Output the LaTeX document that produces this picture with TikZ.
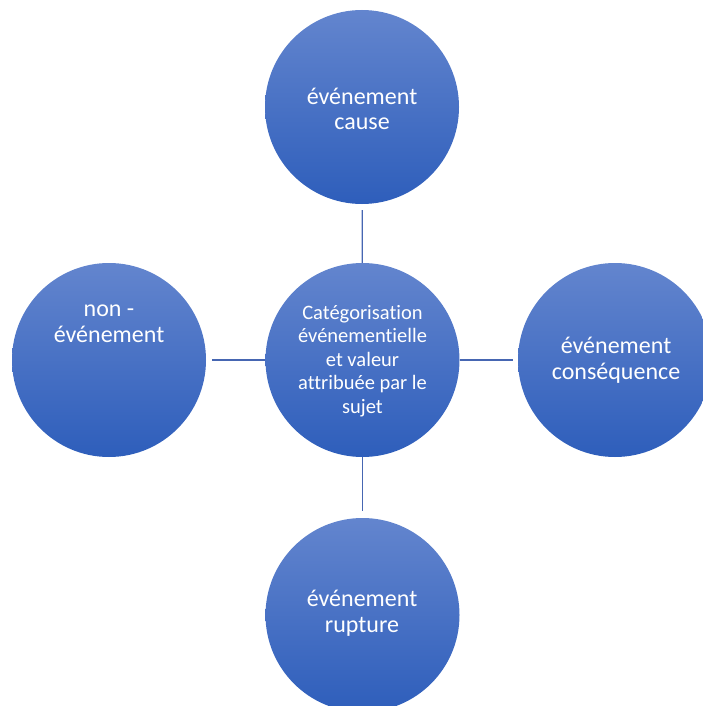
\documentclass[tikz,border=0pt]{standalone}
\usepackage{fontspec}
\setmainfont[Ligatures={NoCommon}]{Carlito}
\definecolor{circtop}{RGB}{99,133,206}
\definecolor{circbot}{RGB}{46,94,187}
\definecolor{connblue}{RGB}{70,102,178}
\begin{document}
\begin{tikzpicture}[x=1pt,y=-1pt,
  bubble/.style={circle,minimum size=194pt,inner sep=0pt,shading=axis,top color=circtop,bottom color=circbot,draw=none},
  outertext/.style={text=white,align=center,font=\fontsize{24}{25.5}\selectfont},
  innertext/.style={text=white,align=center,font=\fontsize{20.5}{23.5}\selectfont},
  conn/.style={draw=connblue,line width=1.2pt}]
\useasboundingbox (0,0) rectangle (703,706);
\clip (0,0) rectangle (703,706);
\node[bubble] (mid) at (362.5,360) {};
\node[bubble] (top) at (362,107) {};
\node[bubble] (left) at (109,360) {};
\node[bubble] (right) at (615,360) {};
\node[bubble] (bot) at (362.5,615) {};
\draw[conn,shorten <=6pt] (top) -- (mid);
\draw[conn,shorten <=6pt] (left) -- (mid);
\draw[conn,shorten <=5pt] (right) -- (mid);
\draw[conn,shorten <=7pt] (bot) -- (mid);
\node[innertext] (tmid) at (362.5,361) {Catégorisation\\événementielle\\et valeur\\attribuée par le\\sujet};
\node[outertext] (ttop) at (362,109) {événement\\cause};
\node[outertext] (tleft) at (109,324) {non -\\événement};
\node[outertext] (tright) at (616,360) {événement\\conséquence};
\node[outertext] (tbot) at (362,613) {événement\\rupture};
\end{tikzpicture}
\end{document}
